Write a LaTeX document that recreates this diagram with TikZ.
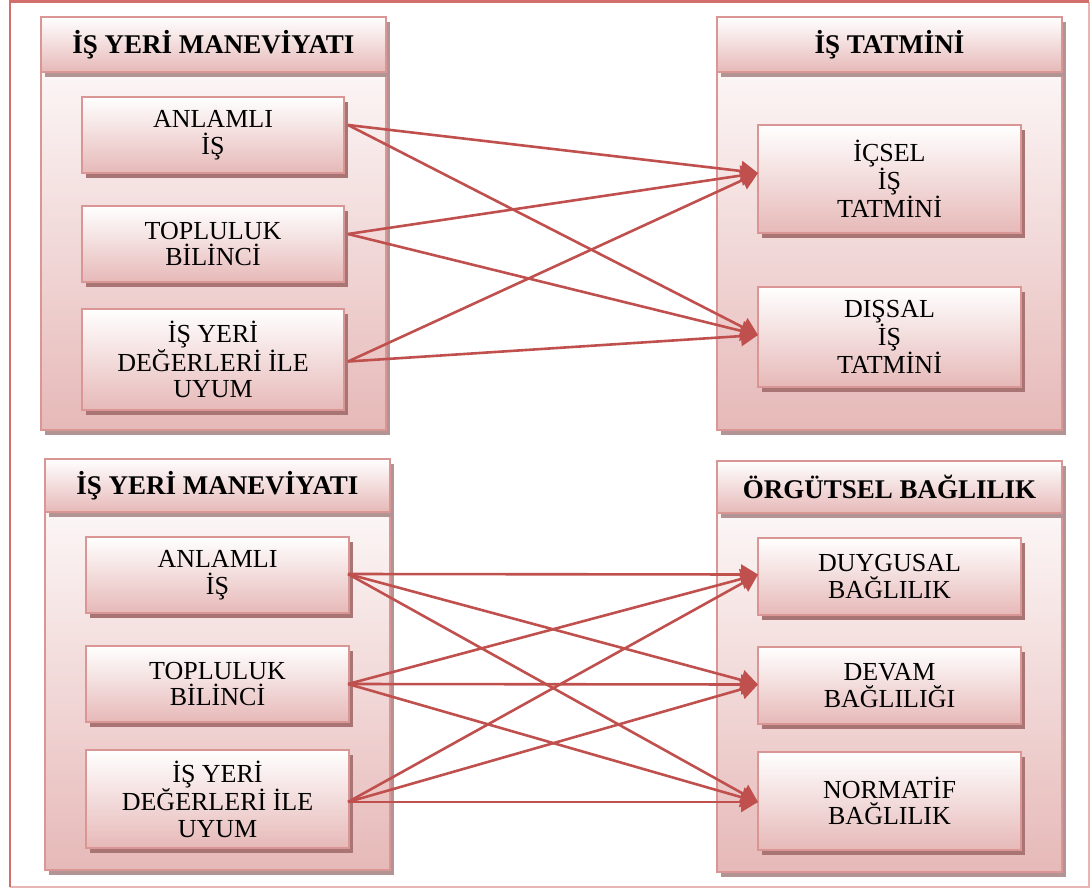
\documentclass[tikz,border=0pt]{standalone}
\usepackage{fontspec}
\setmainfont{Liberation Serif}
\usetikzlibrary{arrows.meta,shadows}
\definecolor{boxpink}{HTML}{E6B9B8}
\definecolor{boxline}{HTML}{D99694}
\definecolor{arrowred}{HTML}{C0504D}
\definecolor{framered}{HTML}{D26E6C}
\definecolor{framepale}{HTML}{E8B4B4}
\definecolor{shadowdark}{HTML}{A87474}
\definecolor{shadowgrey}{HTML}{B39494}
\tikzset{
  container/.style={draw=boxline, line width=1.8pt, top color=white, bottom color=boxpink,
    anchor=north west, inner sep=0pt, outer sep=0pt,
    drop shadow={shadow xshift=4pt, shadow yshift=-5pt, fill=shadowgrey, opacity=1}},
  header/.style={draw=boxline, line width=1.8pt, top color=white, bottom color=boxpink,
    anchor=north west, inner sep=0pt, outer sep=0pt, align=center,
    font=\fontsize{27}{30}\selectfont\bfseries,
    drop shadow={shadow xshift=4pt, shadow yshift=-5pt, fill=shadowgrey, opacity=1}},
  item/.style={draw=boxline, line width=1.8pt, top color=white, bottom color=boxpink,
    anchor=north west, inner sep=0pt, outer sep=0pt, align=center,
    font=\fontsize{26}{26.5}\selectfont,
    drop shadow={shadow xshift=4pt, shadow yshift=-5pt, fill=shadowdark, opacity=1}},
  link/.style={draw=arrowred, line width=2.6pt, -{Triangle[length=17pt,width=20pt]}},
}
\begin{document}
\begin{tikzpicture}[x=1pt,y=-1pt]
\useasboundingbox (0,0) rectangle (1091,888);
% outer frame
\draw[framepale, line width=1.2pt] (1089,2) -- (1089,887) -- (10,887);
\draw[framered, line width=2.6pt] (10,887) -- (10,1.3) -- (1089,1.3);

% upper panel: containers
\node[container, minimum width=345pt, minimum height=413pt] (lc1) at (41,17) {};
\node[container, minimum width=345pt, minimum height=413pt] (rc1) at (717,17) {};
\node[header, minimum width=345pt, minimum height=55pt] (lh1) at (41,17) {İŞ YERİ MANEVİYATI};
\node[header, minimum width=345pt, minimum height=55pt] (rh1) at (717,17) {İŞ TATMİNİ};

% upper panel: items
\node[item, minimum width=262pt, minimum height=76pt] (a1) at (82,97) {ANLAMLI\\İŞ};
\node[item, minimum width=262pt, minimum height=76pt] (t1) at (82,206) {TOPLULUK\\BİLİNCİ};
\node[item, minimum width=262pt, minimum height=101pt] (d1) at (82,309) {İŞ YERİ\\DEĞERLERİ İLE\\UYUM};
\node[item, minimum width=263pt, minimum height=108pt] (ic) at (758,125) {İÇSEL\\İŞ\\TATMİNİ};
\node[item, minimum width=263pt, minimum height=100pt] (ds) at (758,287) {DIŞSAL\\İŞ\\TATMİNİ};

% lower panel: containers
\node[container, minimum width=345pt, minimum height=411pt] (lc2) at (45,459) {};
\node[container, minimum width=345pt, minimum height=411pt] (rc2) at (717,461) {};
\node[header, minimum width=345pt, minimum height=53pt] (lh2) at (45,459) {İŞ YERİ MANEVİYATI};
\node[header, minimum width=345pt, minimum height=52pt] (rh2) at (717,461) {ÖRGÜTSEL BAĞLILIK};

% lower panel: items
\node[item, minimum width=263pt, minimum height=76pt] (a2) at (86,537) {ANLAMLI\\İŞ};
\node[item, minimum width=263pt, minimum height=76pt] (t2) at (86,646) {TOPLULUK\\BİLİNCİ};
\node[item, minimum width=263pt, minimum height=98pt] (d2) at (86,750) {İŞ YERİ\\DEĞERLERİ İLE\\UYUM};
\node[item, minimum width=263pt, minimum height=77pt] (du) at (758,538) {DUYGUSAL\\BAĞLILIK};
\node[item, minimum width=263pt, minimum height=77pt] (dv) at (758,647) {DEVAM\\BAĞLILIĞI};
\node[item, minimum width=263pt, minimum height=98pt] (nm) at (758,752) {NORMATİF\\BAĞLILIK};

% upper panel: connectors
\foreach \s/\sy in {a1/10, t1/10, d1/-2}{
  \draw[link] ([xshift=4pt,yshift=\sy pt]\s.east) -- ([yshift=6pt]ic.west);
  \draw[link] ([xshift=4pt,yshift=\sy pt]\s.east) -- ([yshift=2pt]ds.west);
}
% lower panel: connectors
\foreach \s/\sy in {a2/1, t2/0, d2/-3}{
  \draw[link] ([xshift=-1pt,yshift=\sy pt]\s.east) -- ([yshift=2pt]du.west);
  \draw[link] ([xshift=-1pt,yshift=\sy pt]\s.east) -- ([yshift=1pt]dv.west);
  \draw[link] ([xshift=-1pt,yshift=\sy pt]\s.east) -- ([yshift=-1pt]nm.west);
}
\end{tikzpicture}
\end{document}
